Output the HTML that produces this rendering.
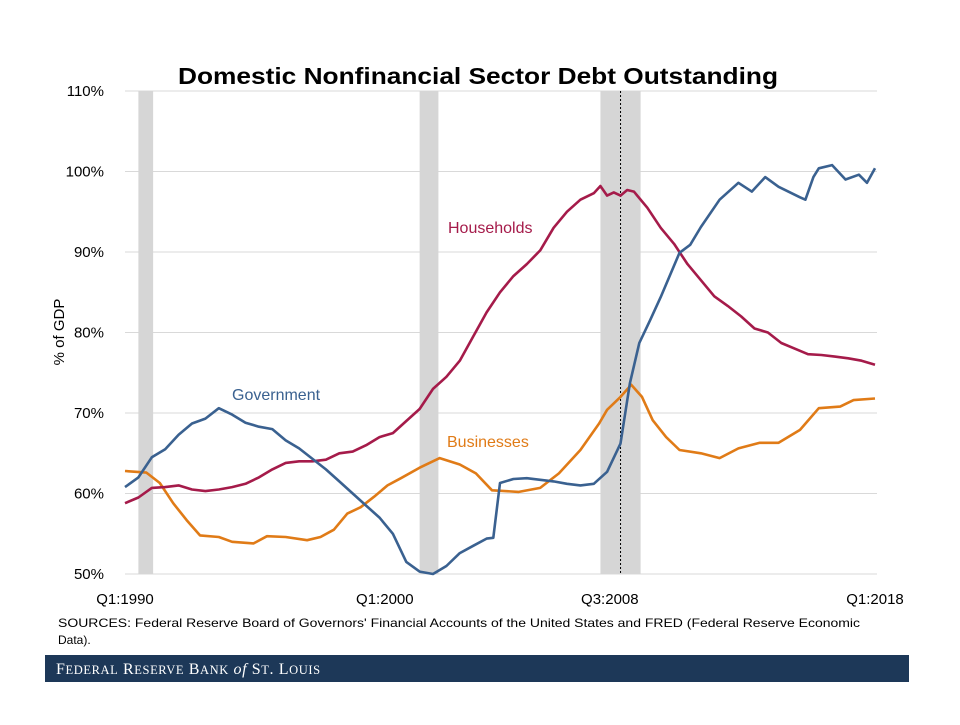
<!DOCTYPE html>
<html><head><meta charset="utf-8"><style>
body{margin:0;background:#fff;font-family:"Liberation Sans",sans-serif}
svg text{font-family:"Liberation Sans",sans-serif}
</style></head><body>
<svg id="c" width="960" height="720">
<text x="478" y="84" text-anchor="middle" font-size="23" font-weight="bold" fill="#000" textLength="600" lengthAdjust="spacingAndGlyphs">Domestic Nonfinancial Sector Debt Outstanding</text>
<text transform="translate(64,332) rotate(-90)" text-anchor="middle" font-size="15" fill="#000">% of GDP</text>
<text x="58" y="627" font-size="12" fill="#000" textLength="802" lengthAdjust="spacingAndGlyphs">SOURCES: Federal Reserve Board of Governors' Financial Accounts of the United States and FRED (Federal Reserve Economic</text>
<text x="58" y="644" font-size="12" fill="#000">Data).</text>
<rect x="45" y="655" width="864" height="27" fill="#1d3858"/>
<text x="56" y="674" font-size="16" fill="#fff" style="font-family:'Liberation Serif',serif;letter-spacing:0.6px">F<tspan font-size="12.5">EDERAL</tspan> R<tspan font-size="12.5">ESERVE</tspan> B<tspan font-size="12.5">ANK</tspan> <tspan font-style="italic">of</tspan> S<tspan font-size="12.5">T</tspan>. L<tspan font-size="12.5">OUIS</tspan></text>
<g id="plot"></g>
</svg>
<script>
const yTicks=[50,60,70,80,90,100,110];
const xTickYears=[1990,1999.7,2008.1,2018];
const xTickLabels=["Q1:1990","Q1:2000","Q3:2008","Q1:2018"];
const recessions=[[1990.5,1991.05],[2001.0,2001.7],[2007.75,2009.25]];
const markerYear=2008.5;
const govT=[1990,1990.5,1991,1991.5,1992,1992.5,1993,1993.5,1994,1994.5,1995,1995.5,1996,1996.5,1997,1997.5,1998,1998.5,1999,1999.5,2000,2000.5,2001,2001.5,2002,2002.5,2003,2003.5,2003.75,2004,2004.5,2005,2005.5,2006,2006.5,2007,2007.5,2008,2008.5,2008.85,2009.2,2009.6,2010,2010.7,2011.1,2011.5,2012.2,2012.9,2013.4,2013.9,2014.4,2015.2,2015.4,2015.7,2015.9,2016.4,2016.9,2017.4,2017.7,2018];
const govV=[60.8,62,64.5,65.5,67.3,68.7,69.3,70.6,69.8,68.8,68.3,68,66.6,65.6,64.3,63,61.5,60,58.5,57,55,51.5,50.3,50,51,52.6,53.5,54.4,54.5,61.3,61.8,61.9,61.7,61.5,61.2,61,61.2,62.7,66.2,73.7,78.7,81.5,84.4,89.9,90.9,93.1,96.5,98.6,97.5,99.3,98.1,96.8,96.5,99.3,100.4,100.8,99,99.6,98.6,100.4];
const hhT=[1990,1990.5,1991,1991.5,1992,1992.5,1993,1993.5,1994,1994.5,1995,1995.5,1996,1996.5,1997,1997.5,1998,1998.5,1999,1999.5,2000,2000.5,2001,2001.5,2002,2002.5,2003,2003.5,2004,2004.5,2005,2005.5,2006,2006.5,2007,2007.5,2007.75,2008,2008.25,2008.5,2008.75,2009,2009.5,2010,2010.5,2011,2011.5,2012,2012.5,2013,2013.5,2014,2014.5,2015,2015.5,2016,2016.5,2017,2017.5,2018];
const hhV=[58.8,59.5,60.7,60.8,61,60.5,60.3,60.5,60.8,61.2,62,63,63.8,64,64,64.2,65,65.2,66,67,67.5,69,70.5,73,74.5,76.5,79.5,82.5,85,87,88.5,90.2,93,95,96.5,97.3,98.2,97,97.4,97,97.7,97.5,95.5,93,91,88.5,86.5,84.5,83.3,82,80.5,80,78.7,78,77.3,77.2,77,76.8,76.5,76];
const busT=[1990,1990.8,1991.3,1991.8,1992.3,1992.8,1993.5,1994,1994.8,1995.3,1996,1996.8,1997.3,1997.8,1998.3,1998.8,1999.3,1999.8,2000.3,2001,2001.75,2002.5,2003.1,2003.7,2004.7,2005.5,2006.2,2007,2007.7,2008,2008.5,2008.9,2009.3,2009.7,2010.2,2010.7,2011.5,2012.2,2012.9,2013.7,2014.4,2015.2,2015.9,2016.7,2017.2,2018];
const busV=[62.8,62.6,61.3,58.8,56.7,54.8,54.6,54,53.8,54.7,54.6,54.2,54.6,55.5,57.5,58.3,59.6,61,61.9,63.2,64.4,63.6,62.5,60.4,60.2,60.7,62.5,65.4,68.7,70.4,72,73.5,72,69.1,67,65.4,65,64.4,65.6,66.3,66.3,67.9,70.6,70.8,71.6,71.8];
const X=t=>125+(t-1990)*(750/28);
const Y=v=>574-(v-50)*(483/60);
const NS="http://www.w3.org/2000/svg";
const g=document.getElementById('plot');
function mk(tag,attrs){const e=document.createElementNS(NS,tag);for(const k in attrs)e.setAttribute(k,attrs[k]);g.appendChild(e);return e;}
yTicks.forEach(v=>{
 const l=mk('line',{x1:125,x2:877,y1:Y(v),y2:Y(v),stroke:'#d9d9d9','stroke-width':1});
 
 
 const t=mk('text',{x:104,y:Y(v)+5,'text-anchor':'end','font-size':15,fill:'#000'});
 t.textContent=v+'%';
 
 
});
recessions.forEach((r,i)=>{
 const e=mk('rect',{x:X(r[0]),y:Y(110),width:X(r[1])-X(r[0]),height:Y(50)-Y(110),fill:'#d6d6d6'});
 
 
});
const dl=mk('line',{x1:X(markerYear),x2:X(markerYear),y1:Y(110),y2:Y(50),stroke:'#000','stroke-width':1,'stroke-dasharray':'2,2'});


xTickYears.forEach((t,i)=>{
 const e=mk('text',{x:X(t),y:604,'text-anchor':'middle','font-size':15,fill:'#000'});
 e.textContent=xTickLabels[i];
 
 
});
function line(T,V,color,name){
 const p=mk('polyline',{points:T.map((t,i)=>X(t).toFixed(1)+','+Y(V[i]).toFixed(1)).join(' '),fill:'none',stroke:color,'stroke-width':2.6,'stroke-linejoin':'round'});
 
 
}
line(busT,busV,'#e07b17','businesses-line');
line(hhT,hhV,'#a51b4a','households-line');
line(govT,govV,'#3a6190','government-line');
[['Households',448,233,'#a51b4a','households-label'],['Government',232,400,'#3a6190','government-label'],['Businesses',447,447,'#e07b17','businesses-label']].forEach(a=>{
 const e=mk('text',{x:a[1],y:a[2],'font-size':16,fill:a[3]});
 e.textContent=a[0];
 
 
});
</script>
</body></html>
